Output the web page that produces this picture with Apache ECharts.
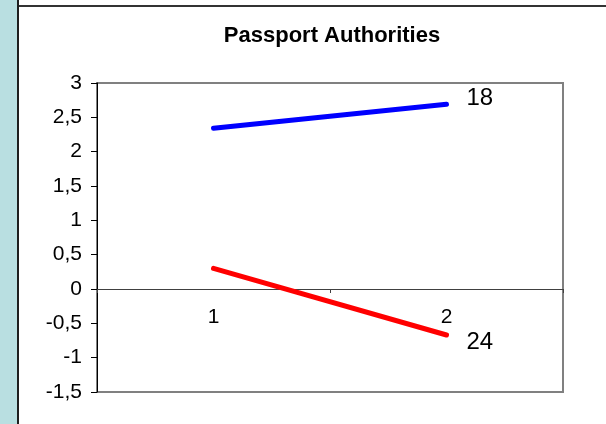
<!DOCTYPE html>
<html>
<head>
<meta charset="utf-8">
<style>
  html, body { margin: 0; padding: 0; background: #ffffff; }
  #chart { width: 606px; height: 424px; }
</style>
<script src="https://cdn.jsdelivr.net/npm/echarts@6/dist/echarts.min.js"></script>
</head>
<body>
<div id="chart"></div>
<script>
// Chart data
const chartTitle = 'Passport Authorities';
const categories = ['1', '2'];
const seriesNames = ['18', '24'];
const seriesBlue = [2.34, 2.69];
const seriesRed = [0.30, -0.67];
const yTicks = { min: -1.5, max: 3, interval: 0.5 };

const chart = echarts.init(document.getElementById('chart'), null, { renderer: 'canvas' });
const font = 'Liberation Sans, Arial, sans-serif';

// plot box
const gridTop = 83, gridBottom = 32, gridLeft = 97, gridRight = 43;
const plotHeight = 424 - gridTop - gridBottom;
// the category axis sits on the zero line: shift it up from the plot bottom
const zeroShift = plotHeight * (0 - yTicks.min) / (yTicks.max - yTicks.min);

function makeSeries(name, data, color, offsetY) {
  return {
    name: name,
    type: 'line',
    data: data,
    symbol: 'none',
    lineStyle: { color: color, width: 5, cap: 'round' },
    itemStyle: { color: color },
    endLabel: {
      show: true,
      formatter: '{a}',
      distance: 20,
      offset: [0, offsetY],
      fontFamily: font,
      fontSize: 24,
      color: '#000000'
    },
    silent: true,
    z: 5
  };
}

chart.setOption({
  animation: false,
  backgroundColor: '#ffffff',
  title: {
    text: chartTitle,
    left: 327,
    textAlign: 'center',
    top: 20,
    textStyle: { fontFamily: font, fontSize: 22, fontWeight: 'bold', color: '#000000' }
  },
  graphic: [
    { type: 'rect', shape: { x: 0, y: 0, width: 17, height: 424 }, style: { fill: '#b9dfe1' }, silent: true },
    { type: 'rect', shape: { x: 17, y: 0, width: 2, height: 424 }, style: { fill: '#1e1e1e' }, silent: true },
    { type: 'rect', shape: { x: 19, y: 5, width: 587, height: 2 }, style: { fill: '#333333' }, silent: true }
  ],
  grid: {
    left: gridLeft, right: gridRight, top: gridTop, bottom: gridBottom,
    show: true, borderColor: '#808080', borderWidth: 2, backgroundColor: 'transparent'
  },
  xAxis: {
    type: 'category',
    data: categories,
    boundaryGap: true,
    offset: -zeroShift,
    axisLine: { onZero: false, lineStyle: { color: '#404040', width: 1 } },
    axisTick: { show: true, inside: false, length: 4, lineStyle: { color: '#404040' } },
    axisLabel: { margin: 18, fontFamily: font, fontSize: 21, color: '#000000' },
    splitLine: { show: false }
  },
  yAxis: {
    type: 'value',
    min: yTicks.min,
    max: yTicks.max,
    interval: yTicks.interval,
    axisLine: { show: true, lineStyle: { color: '#000000', width: 1 } },
    axisTick: { show: true, inside: false, length: 6, lineStyle: { color: '#000000' } },
    axisLabel: {
      margin: 15, fontFamily: font, fontSize: 21, color: '#000000',
      formatter: (v) => String(Math.round(v * 10) / 10).replace('.', ',')
    },
    splitLine: { show: false }
  },
  series: [
    makeSeries(seriesNames[0], seriesBlue, '#0000ff', -6),
    makeSeries(seriesNames[1], seriesRed, '#ff0000', 7)
  ]
});
</script>
</body>
</html>
